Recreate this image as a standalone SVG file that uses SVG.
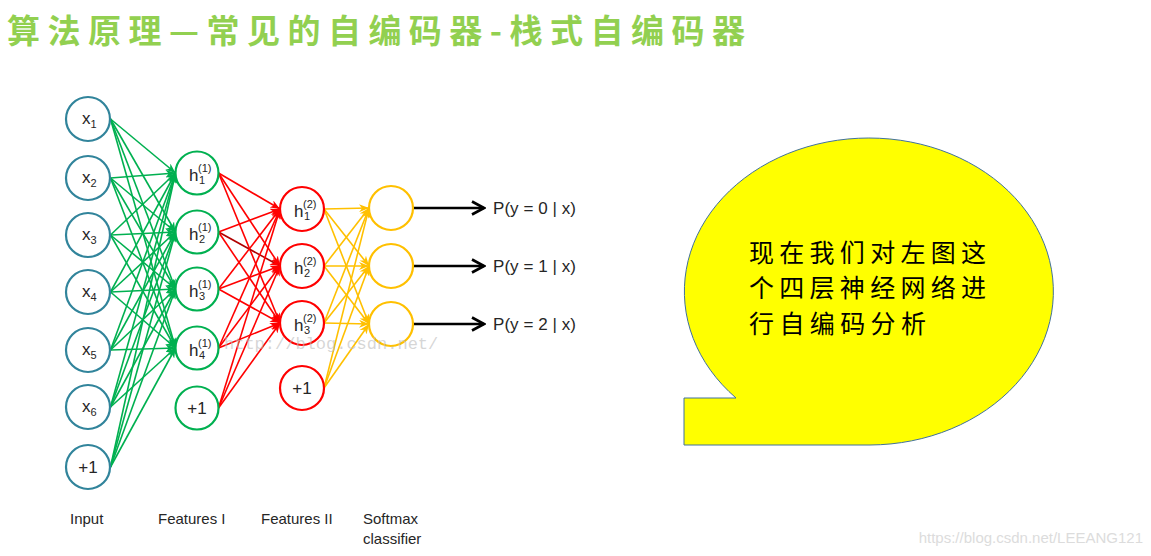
<svg xmlns="http://www.w3.org/2000/svg" width="1151" height="556" viewBox="0 0 1151 556">
<style>
.t{font-family:"Liberation Sans","Noto Sans",sans-serif;fill:#262626}
.lbl{font-size:17px}
.sub{font-size:11px}
.lay{font-size:15px}
.pr{font-size:17px}
.nin{fill:#fff;stroke:#31849B;stroke-width:2.2}
.nf1{fill:#fff;stroke:#00B050;stroke-width:2.2}
.nf2{fill:#fff;stroke:#FF0000;stroke-width:2.2}
.nsm{fill:#fff;stroke:#FFC000;stroke-width:2.2}
.g line{stroke:#00B050;stroke-width:1.6;marker-end:url(#ag)}
.r line{stroke:#FF0000;stroke-width:1.6;marker-end:url(#ar)}
.y line{stroke:#FFC000;stroke-width:1.6;marker-end:url(#ay)}
.k line{stroke:#000;stroke-width:2.6;marker-end:url(#ak)}
.cjk{font-family:"Noto Sans CJK SC",sans-serif}
</style>
<defs>
<marker id="ag" viewBox="0 0 10 8" markerWidth="10" markerHeight="8" refX="10" refY="4" orient="auto" markerUnits="userSpaceOnUse"><path d="M0,0 L10,4 L0,8 L3,4 Z" fill="#00B050"/></marker>
<marker id="ar" viewBox="0 0 10 8" markerWidth="10" markerHeight="8" refX="10" refY="4" orient="auto" markerUnits="userSpaceOnUse"><path d="M0,0 L10,4 L0,8 L3,4 Z" fill="#FF0000"/></marker>
<marker id="ay" viewBox="0 0 10 8" markerWidth="10" markerHeight="8" refX="10" refY="4" orient="auto" markerUnits="userSpaceOnUse"><path d="M0,0 L10,4 L0,8 L3,4 Z" fill="#FFC000"/></marker>
<marker id="ak" viewBox="0 0 16 16" markerWidth="16" markerHeight="16" refX="14" refY="8" orient="auto" markerUnits="userSpaceOnUse"><path d="M2,1.5 L14,8 L2,14.5" fill="none" stroke="#000" stroke-width="2.6"/></marker>
</defs>
<rect width="1151" height="556" fill="#fff"/>
<text class="cjk" x="7" y="43" font-size="33" font-weight="bold" fill="#92D050" textLength="738" lengthAdjust="spacing">算法原理—常见的自编码器-栈式自编码器</text>

<g id="connectors">
<g class="g">
<line x1="110.5" y1="119" x2="175.5" y2="173"/><line x1="110.5" y1="119" x2="175.5" y2="232"/><line x1="110.5" y1="119" x2="175.5" y2="289"/><line x1="110.5" y1="119" x2="175.5" y2="348"/>
<line x1="110.5" y1="178" x2="175.5" y2="173"/><line x1="110.5" y1="178" x2="175.5" y2="232"/><line x1="110.5" y1="178" x2="175.5" y2="289"/><line x1="110.5" y1="178" x2="175.5" y2="348"/>
<line x1="110.5" y1="235" x2="175.5" y2="173"/><line x1="110.5" y1="235" x2="175.5" y2="232"/><line x1="110.5" y1="235" x2="175.5" y2="289"/><line x1="110.5" y1="235" x2="175.5" y2="348"/>
<line x1="110.5" y1="292" x2="175.5" y2="173"/><line x1="110.5" y1="292" x2="175.5" y2="232"/><line x1="110.5" y1="292" x2="175.5" y2="289"/><line x1="110.5" y1="292" x2="175.5" y2="348"/>
<line x1="110.5" y1="350" x2="175.5" y2="173"/><line x1="110.5" y1="350" x2="175.5" y2="232"/><line x1="110.5" y1="350" x2="175.5" y2="289"/><line x1="110.5" y1="350" x2="175.5" y2="348"/>
<line x1="110.5" y1="407" x2="175.5" y2="173"/><line x1="110.5" y1="407" x2="175.5" y2="232"/><line x1="110.5" y1="407" x2="175.5" y2="289"/><line x1="110.5" y1="407" x2="175.5" y2="348"/>
<line x1="110.5" y1="467" x2="175.5" y2="173"/><line x1="110.5" y1="467" x2="175.5" y2="232"/><line x1="110.5" y1="467" x2="175.5" y2="289"/><line x1="110.5" y1="467" x2="175.5" y2="348"/>
</g>
<g class="r">
<line x1="218.5" y1="173" x2="280" y2="209"/><line x1="218.5" y1="173" x2="280" y2="266"/><line x1="218.5" y1="173" x2="280" y2="323"/>
<line x1="218.5" y1="232" x2="280" y2="209"/><line x1="218.5" y1="232" x2="280" y2="266" style="stroke:#B00000"/><line x1="218.5" y1="232" x2="280" y2="323"/>
<line x1="218.5" y1="289" x2="280" y2="209"/><line x1="218.5" y1="289" x2="280" y2="266"/><line x1="218.5" y1="289" x2="280" y2="323"/>
<line x1="218.5" y1="348" x2="280" y2="209"/><line x1="218.5" y1="348" x2="280" y2="266"/><line x1="218.5" y1="348" x2="280" y2="323"/>
<line x1="218.5" y1="408" x2="280" y2="209"/><line x1="218.5" y1="408" x2="280" y2="266"/><line x1="218.5" y1="408" x2="280" y2="323"/>
</g>
<g class="y">
<line x1="324" y1="209" x2="369" y2="208"/><line x1="324" y1="209" x2="369" y2="266"/><line x1="324" y1="209" x2="369" y2="324"/>
<line x1="324" y1="266" x2="369" y2="208"/><line x1="324" y1="266" x2="369" y2="266"/><line x1="324" y1="266" x2="369" y2="324"/>
<line x1="324" y1="323" x2="369" y2="208"/><line x1="324" y1="323" x2="369" y2="266"/><line x1="324" y1="323" x2="369" y2="324"/>
<line x1="324" y1="388" x2="369" y2="208"/><line x1="324" y1="388" x2="369" y2="266"/><line x1="324" y1="388" x2="369" y2="324"/>
</g>
<g class="k">
<line x1="413" y1="208" x2="484" y2="208"/><line x1="413" y1="266" x2="484" y2="266"/><line x1="413" y1="324" x2="484" y2="324"/>
</g>
</g>

<g id="input">
<g id="x1"><circle class="nin" cx="88" cy="119" r="22"/><text class="t lbl" x="82" y="124">x<tspan class="sub" dy="4">1</tspan></text></g>
<g id="x2"><circle class="nin" cx="88" cy="178" r="22"/><text class="t lbl" x="82" y="183">x<tspan class="sub" dy="4">2</tspan></text></g>
<g id="x3"><circle class="nin" cx="88" cy="235" r="22"/><text class="t lbl" x="82" y="240">x<tspan class="sub" dy="4">3</tspan></text></g>
<g id="x4"><circle class="nin" cx="88" cy="292" r="22"/><text class="t lbl" x="82" y="297">x<tspan class="sub" dy="4">4</tspan></text></g>
<g id="x5"><circle class="nin" cx="88" cy="350" r="22"/><text class="t lbl" x="82" y="355">x<tspan class="sub" dy="4">5</tspan></text></g>
<g id="x6"><circle class="nin" cx="88" cy="407" r="22"/><text class="t lbl" x="82" y="412">x<tspan class="sub" dy="4">6</tspan></text></g>
<g id="xb"><circle class="nin" cx="88" cy="467" r="22"/><text class="t lbl" x="88" y="473" text-anchor="middle">+1</text></g>
</g>

<g id="features1">
<g id="h11"><circle class="nf1" cx="197" cy="173" r="21.5"/><text class="t lbl" x="189" y="181">h</text><text class="t sub" x="198" y="172">(1)</text><text class="t sub" x="199" y="184">1</text></g>
<g id="h12"><circle class="nf1" cx="197" cy="232" r="21.5"/><text class="t lbl" x="189" y="240">h</text><text class="t sub" x="198" y="231">(1)</text><text class="t sub" x="199" y="243">2</text></g>
<g id="h13"><circle class="nf1" cx="197" cy="289" r="21.5"/><text class="t lbl" x="189" y="297">h</text><text class="t sub" x="198" y="288">(1)</text><text class="t sub" x="199" y="300">3</text></g>
<g id="h14"><circle class="nf1" cx="197" cy="348" r="21.5"/><text class="t lbl" x="189" y="356">h</text><text class="t sub" x="198" y="347">(1)</text><text class="t sub" x="199" y="359">4</text></g>
<g id="h1b"><circle class="nf1" cx="197" cy="408" r="21.5"/><text class="t lbl" x="197" y="414" text-anchor="middle">+1</text></g>
</g>

<g id="features2">
<g id="h21"><circle class="nf2" cx="302" cy="209" r="22"/><text class="t lbl" x="294" y="217">h</text><text class="t sub" x="303" y="208">(2)</text><text class="t sub" x="304" y="220">1</text></g>
<g id="h22"><circle class="nf2" cx="302" cy="266" r="22"/><text class="t lbl" x="294" y="274">h</text><text class="t sub" x="303" y="265">(2)</text><text class="t sub" x="304" y="277">2</text></g>
<g id="h23"><circle class="nf2" cx="302" cy="323" r="22"/><text class="t lbl" x="294" y="331">h</text><text class="t sub" x="303" y="322">(2)</text><text class="t sub" x="304" y="334">3</text></g>
<g id="h2b"><circle class="nf2" cx="302" cy="388" r="22"/><text class="t lbl" x="302" y="394" text-anchor="middle">+1</text></g>
</g>

<g id="softmax">
<g id="s1"><circle class="nsm" cx="391" cy="208" r="22"/></g>
<g id="s2"><circle class="nsm" cx="391" cy="266" r="22"/></g>
<g id="s3"><circle class="nsm" cx="391" cy="324" r="22"/></g>
</g>

<g id="outputs">
<text class="t pr" x="493" y="214" textLength="83" lengthAdjust="spacing">P(y = 0 | x)</text>
<text class="t pr" x="493" y="272" textLength="83" lengthAdjust="spacing">P(y = 1 | x)</text>
<text class="t pr" x="493" y="330" textLength="83" lengthAdjust="spacing">P(y = 2 | x)</text>
</g>

<g id="layer-labels">
<text class="t lay" x="70" y="524">Input</text>
<text class="t lay" x="158" y="524">Features I</text>
<text class="t lay" x="261" y="524">Features II</text>
<text class="t lay" x="363" y="524">Softmax</text>
<text class="t lay" x="363" y="544">classifier</text>
</g>

<text x="224" y="349" font-family="Liberation Mono,monospace" font-size="17" fill="#bbbbbb" fill-opacity="0.6">http://blog.csdn.net/</text>

<g id="bubble">
<path d="M870,445 A184.5,153.5 0 1 0 736,398 L684,398 L684,445 Z" fill="#FFFF00" stroke="#41719C" stroke-width="1"/>
<text class="cjk" x="749" y="262" font-size="25" fill="#000" textLength="237" lengthAdjust="spacing">现在我们对左图这</text>
<text class="cjk" x="749" y="297" font-size="25" fill="#000" textLength="237" lengthAdjust="spacing">个四层神经网络进</text>
<text class="cjk" x="749" y="333" font-size="25" fill="#000" textLength="177" lengthAdjust="spacing">行自编码分析</text>
</g>

<text x="1143" y="543" text-anchor="end" font-family="Liberation Sans,Arial,sans-serif" font-size="15" fill="#dcdcdc">https://blog.csdn.net/LEEANG121</text>
</svg>
